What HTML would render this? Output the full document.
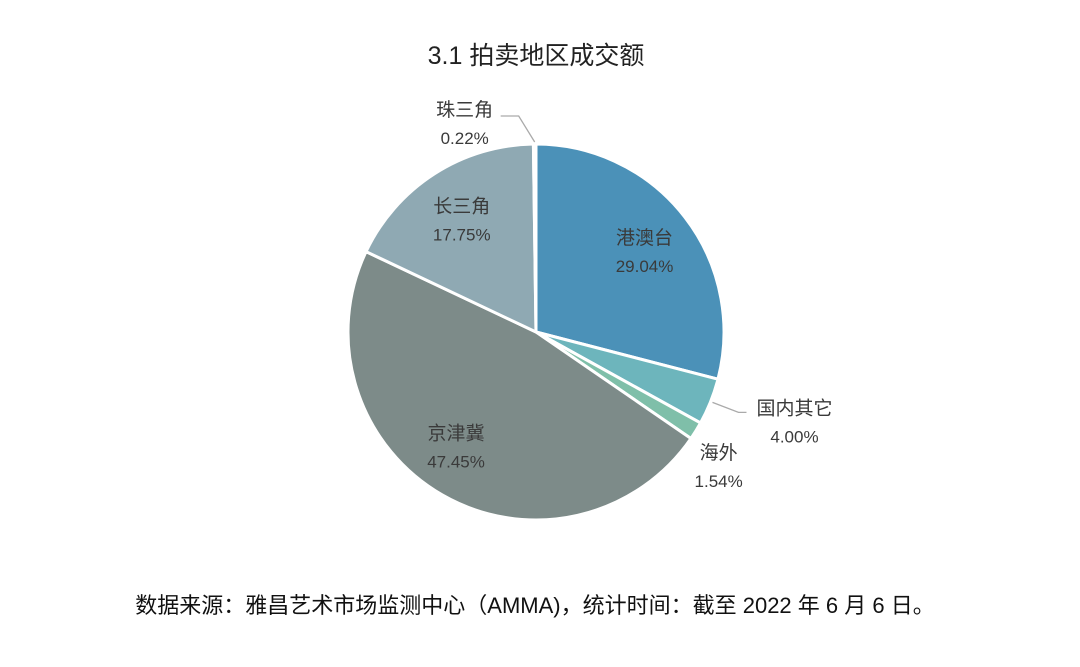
<!DOCTYPE html>
<html><head><meta charset="utf-8">
<style>
body{margin:0;background:#fff;width:1080px;height:662px;overflow:hidden;font-family:"Liberation Sans","Noto Sans CJK SC",sans-serif;}
</style></head>
<body>
<svg id="chart" width="1080" height="662" xmlns="http://www.w3.org/2000/svg" font-family="'Liberation Sans','Noto Sans CJK SC',sans-serif">
<text x="536" y="64" text-anchor="middle" font-size="25" fill="#222">3.1 拍卖地区成交额</text>
<g id="slices"></g>
<g id="labels"></g>
<text x="535" y="613" text-anchor="middle" font-size="22" fill="#111">数据来源：雅昌艺术市场监测中心（AMMA)，统计时间：截至 2022 年 6 月 6 日。</text>
</svg>
<script>
const categories = ["港澳台","国内其它","海外","京津冀","长三角","珠三角"];
const values = [29.04, 4.00, 1.54, 47.45, 17.75, 0.22];
const valueLabels = ["29.04%","4.00%","1.54%","47.45%","17.75%","0.22%"];
const colors = ["#4b91b8","#6db5bc","#7fbfa9","#7d8b89","#8fa9b3","#a9c4c9"];
const cx=536, cy=332, r=188;
const ns="http://www.w3.org/2000/svg";
const total=values.reduce((a,b)=>a+b,0);
const sg=document.getElementById('slices'), lg=document.getElementById('labels');
function pt(a,rad){return [cx+rad*Math.sin(a), cy-rad*Math.cos(a)];}
const outside=[false,true,true,false,false,true];
let acc=0;
values.forEach((v,i)=>{
  const a0=acc/total*2*Math.PI; acc+=v; const a1=acc/total*2*Math.PI;
  const p0=pt(a0,r), p1=pt(a1,r);
  const large=(a1-a0)>Math.PI?1:0;
  const p=document.createElementNS(ns,'path');
  p.setAttribute('d',`M${cx},${cy} L${p0[0]},${p0[1]} A${r},${r} 0 ${large} 1 ${p1[0]},${p1[1]} Z`);
  p.setAttribute('fill',colors[i]); p.setAttribute('stroke','#fff'); p.setAttribute('stroke-width','3');
  
  
  sg.appendChild(p);
  let am=(a0+a1)/2;
  let lx,ly;
  if(!outside[i]){ if(i===3) am+=0.1; [lx,ly]=pt(am,r*0.73); }
  else {
    const e=pt(am,r+2);
    const line=document.createElementNS(ns,'polyline');
    let pts=null;
    if(i===5){ pts=`${e[0]},${e[1]} ${e[0]-16},${e[1]-26} ${e[0]-34},${e[1]-26}`; lx=e[0]-70; ly=e[1]-22; }
    else if(i===1){ pts=`${e[0]},${e[1]} ${e[0]+26},${e[1]+10} ${e[0]+34},${e[1]+10}`; lx=e[0]+82; ly=e[1]+16; }
    else { lx=e[0]+21; ly=e[1]+31; }
    if(pts){
      line.setAttribute('points',pts); line.setAttribute('fill','none'); line.setAttribute('stroke','#aaa'); line.setAttribute('stroke-width','1.3');
      
      
      lg.appendChild(line);
    }
  }
  const t=document.createElementNS(ns,'text');
  t.setAttribute('x',lx); t.setAttribute('y',ly-4); t.setAttribute('text-anchor','middle');
  t.setAttribute('font-size','19'); t.setAttribute('fill','#3a3a3a');
  t.textContent=categories[i];
  
  
  lg.appendChild(t);
  const t2=document.createElementNS(ns,'text');
  t2.setAttribute('x',lx); t2.setAttribute('y',ly+24); t2.setAttribute('text-anchor','middle');
  t2.setAttribute('font-size','17'); t2.setAttribute('fill','#3a3a3a');
  t2.textContent=valueLabels[i];
  
  
  lg.appendChild(t2);
});
</script>
</body></html>
